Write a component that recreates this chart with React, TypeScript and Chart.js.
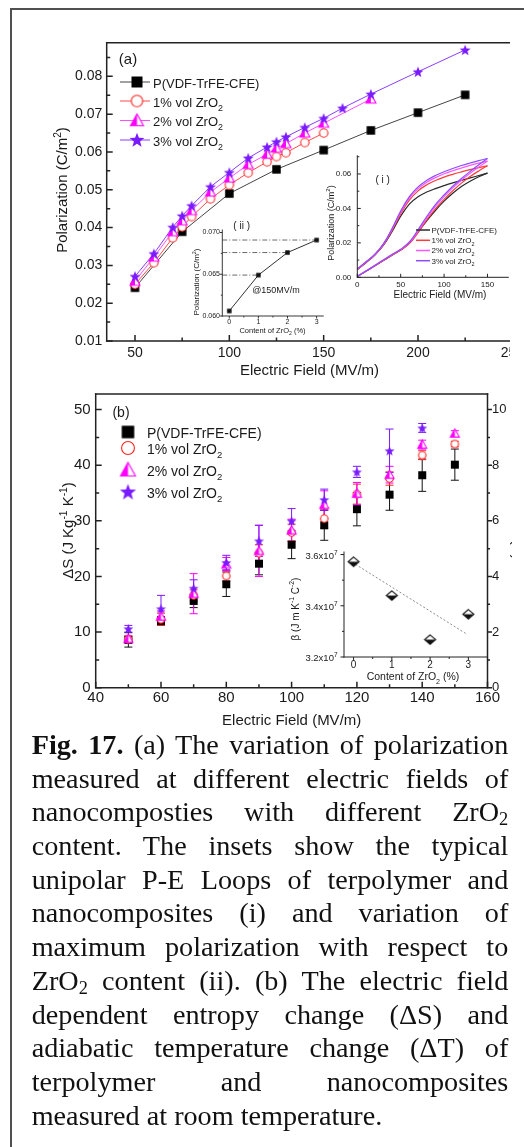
import React, { useEffect, useRef } from 'react';
import { Chart, registerables } from 'chart.js';
Chart.register(...registerables);

// ================= DATA =================
// Panel (a): polarization vs electric field
const A_E_PURE = [50, 75, 100, 125, 150, 175, 200, 225];
const A_P_PURE = [0.0241, 0.0389, 0.049, 0.0554, 0.0605, 0.0657, 0.0704, 0.0751];
const A_E_1 = [50, 60, 70, 75, 80, 90, 100, 110, 120, 125, 130, 140, 150];
const A_P_1 = [0.025, 0.0307, 0.0373, 0.0402, 0.0429, 0.0476, 0.0513, 0.0545, 0.0574, 0.0588, 0.0598, 0.0625, 0.065];
const A_E_2 = [50, 60, 70, 75, 80, 90, 100, 110, 120, 125, 130, 140, 150, 175];
const A_P_2 = [0.0258, 0.0322, 0.0389, 0.0418, 0.0445, 0.0494, 0.0531, 0.0567, 0.0594, 0.061, 0.0622, 0.065, 0.0676, 0.074];
const A_E_3 = [50, 60, 70, 75, 80, 90, 100, 110, 120, 125, 130, 140, 150, 160, 175, 200, 225];
const A_P_3 = [0.0271, 0.0331, 0.0401, 0.0431, 0.0458, 0.0508, 0.0546, 0.0584, 0.0613, 0.0627, 0.064, 0.0665, 0.0689, 0.0716, 0.0753, 0.0812, 0.087];
const A_X_TICKS = [50, 100, 150, 200, 250];
const A_X_MINOR = [75, 125, 175, 225];
const A_Y_TICKS = [0.01, 0.02, 0.03, 0.04, 0.05, 0.06, 0.07, 0.08];
const A_Y_MINOR = [0.015, 0.025, 0.035, 0.045, 0.055, 0.065, 0.075, 0.085];

const SERIES = ['P(VDF-TrFE-CFE)', '1% vol ZrO2', '2% vol ZrO2', '3% vol ZrO2'];

// Inset (i): unipolar P-E loops (charging / discharging branches)
const I_E = [0, 10, 20, 30, 40, 50, 60, 70, 80, 90, 100, 110, 120, 130, 140, 150];
const I_UP_PURE = [0.0005, 0.0035, 0.0066, 0.0097, 0.0128, 0.0158, 0.0198, 0.0262, 0.0328, 0.0388, 0.0442, 0.0488, 0.0527, 0.0558, 0.0584, 0.0605];
const I_UP_1 = [0.0005, 0.0035, 0.0066, 0.0097, 0.0128, 0.0158, 0.0196, 0.026, 0.0333, 0.0398, 0.0453, 0.0503, 0.0547, 0.0585, 0.0618, 0.0648];
const I_UP_2 = [0.0005, 0.0036, 0.0068, 0.01, 0.0131, 0.0161, 0.0201, 0.0268, 0.0343, 0.0412, 0.0468, 0.0519, 0.0564, 0.0604, 0.0641, 0.0675];
const I_UP_3 = [0.0005, 0.0036, 0.0068, 0.01, 0.0132, 0.0163, 0.0205, 0.0276, 0.0353, 0.0422, 0.0478, 0.0529, 0.0574, 0.0615, 0.0654, 0.069];
const I_DN_PURE = [0.0045, 0.0085, 0.0128, 0.0185, 0.0265, 0.0355, 0.0425, 0.0468, 0.0495, 0.0515, 0.0532, 0.0548, 0.0563, 0.0577, 0.0591, 0.0605];
const I_DN_1 = [0.0045, 0.0086, 0.0129, 0.0188, 0.0272, 0.0368, 0.0448, 0.0502, 0.0537, 0.0562, 0.0582, 0.0598, 0.0612, 0.0625, 0.0637, 0.0648];
const I_DN_2 = [0.0047, 0.0088, 0.0131, 0.0191, 0.0278, 0.0378, 0.046, 0.0515, 0.0552, 0.0579, 0.0601, 0.0619, 0.0635, 0.065, 0.0663, 0.0675];
const I_DN_3 = [0.0049, 0.009, 0.0133, 0.0194, 0.0283, 0.0385, 0.0468, 0.0525, 0.0563, 0.0591, 0.0613, 0.0632, 0.0649, 0.0664, 0.0678, 0.069];
const I_X_TICKS = [0, 50, 100, 150];
const I_X_MINOR = [25, 75, 125];
const I_Y_TICKS = [0, 0.02, 0.04, 0.06];
const I_Y_MINOR = [0.01, 0.03, 0.05, 0.07];

// Inset (ii): max polarization @150 MV/m vs ZrO2 content
const II_CONTENT = [0, 1, 2, 3];
const II_PMAX = [0.0606, 0.0649, 0.0676, 0.0691];
const II_X_TICKS = [0, 1, 2, 3];
const II_X_MINOR = [0.5, 1.5, 2.5];
const II_Y_TICKS = [0.06, 0.065, 0.07];
const II_Y_MINOR = [0.0625, 0.0675];

// Panel (b): entropy change vs electric field
const B_E = [50, 60, 70, 80, 90, 100, 110, 120, 130, 140, 150];
const B_S_PURE = [8.6, 12.0, 15.6, 18.6, 22.3, 25.7, 29.2, 32.1, 34.7, 38.2, 40.1];
const B_ERR_PURE = [1.3, 0.8, 1.2, 2.2, 2.0, 2.5, 2.7, 3.0, 2.8, 2.9, 2.8];
const B_S_1 = [8.7, 12.3, 16.6, 20.1, 24.2, 27.9, 30.4, 34.8, 37.6, 41.8, 43.8];
const B_ERR_1 = [0.6, 1.1, 1.0, 1.0, 1.5, 1.5, 1.7, 1.8, 1.2, 0.8, 0.5];
const B_S_2 = [8.8, 12.8, 16.9, 22.2, 24.6, 28.3, 32.9, 34.9, 38.3, 43.7, 45.7];
const B_ERR_2 = [0.5, 1.0, 3.6, 1.2, 4.6, 2.0, 2.5, 2.0, 1.5, 0.8, 0.5];
const B_E_3 = [50, 60, 70, 80, 90, 100, 110, 120, 130, 140];
const B_S_3 = [10.6, 14.2, 17.9, 22.5, 26.4, 30.0, 33.8, 38.8, 42.6, 46.7];
const B_ERR_3 = [0.6, 2.4, 1.5, 1.3, 2.8, 2.2, 1.9, 1.0, 3.9, 0.8];
const B_X_TICKS = [40, 60, 80, 100, 120, 140, 160];
const B_X_MINOR = [50, 70, 90, 110, 130, 150];
const B_Y_TICKS = [0, 10, 20, 30, 40, 50];
const B_Y_MINOR = [5, 15, 25, 35, 45];
const B_Y2_TICKS = [0, 2, 4, 6, 8, 10];
const B_Y2_MINOR = [1, 3, 5, 7, 9];

// Inset (b): beta vs ZrO2 content
const BETA_CONTENT = [0, 1, 2, 3];
const BETA = [3.572e7, 3.44e7, 3.268e7, 3.367e7];
const BETA_FIT_X = [0.05, 2.95];
const BETA_FIT_Y = [3.562e7, 3.29e7];
const BETA_X_TICKS = [0, 1, 2, 3];
const BETA_X_MINOR = [0.5, 1.5, 2.5];
const BETA_Y_TICKS = [3.2e7, 3.4e7, 3.6e7];
const BETA_Y_MINOR = [3.3e7, 3.5e7];

const CAPTION = [
  'Fig. 17. (a) The variation of polarization',
  'measured at different electric fields of',
  'nanocomposties with different ZrO2',
  'content. The insets show the typical',
  'unipolar P-E Loops of terpolymer and',
  'nanocomposites (i) and variation of',
  'maximum polarization with respect to',
  'ZrO2 content (ii). (b) The electric field',
  'dependent entropy change (ΔS) and',
  'adiabatic temperature change (ΔT) of',
  'terpolymer and nanocomposites',
  'measured at room temperature.',
];

// ================= STYLE =================
const FONT = "'Liberation Sans', Arial, Helvetica, sans-serif";
const TXT = '#1a1a1a';
const AX = '#222';
const C_BLACK = '#000000';
const C_RED = '#ff2323';
const C_MAG = '#ff00ff';
const C_PUR = '#7a1aff';
const L_BLACK = '#444444';
const L_RED = '#ff4a4a';
const L_MAG = '#ff4dff';
const L_PUR = '#8a3dff';

Chart.defaults.font.family = FONT;
Chart.defaults.color = TXT;

type Seg = [string, string?];
type Box = { x: number; y: number; w: number; h: number };
type Area = { l: number; t: number; r: number; b: number };

function segsOf(label: string): Seg[] {
  const i = label.indexOf('ZrO2');
  if (i < 0) return [[label]];
  return [[label.slice(0, i + 3)], ['2', 'sub'], [label.slice(i + 4)]];
}

function drawRich(ctx: CanvasRenderingContext2D, segs: Seg[], cx: number, cy: number, size: number,
  align: string = 'center', rot: number = 0, color: string = TXT) {
  const small = size * 0.68;
  const font = (k?: string) => `${k === 'sub' || k === 'sup' ? small : size}px ${FONT}`;
  let total = 0;
  for (const [t, k] of segs) { ctx.font = font(k); total += ctx.measureText(t).width; }
  ctx.save();
  ctx.translate(cx, cy);
  if (rot) ctx.rotate(rot);
  ctx.fillStyle = color;
  ctx.textAlign = 'left';
  ctx.textBaseline = 'alphabetic';
  let x = align === 'left' ? 0 : align === 'right' ? -total : -total / 2;
  const base = size * 0.358;
  for (const [t, k] of segs) {
    ctx.font = font(k);
    const dy = k === 'sub' ? size * 0.3 : k === 'sup' ? -size * 0.42 : 0;
    ctx.fillText(t, x, base + dy);
    x += ctx.measureText(t).width;
  }
  ctx.restore();
}

function makeMarker(kind: string, color: string, size: number): HTMLCanvasElement {
  const pad = 2;
  const c = document.createElement('canvas');
  const W = Math.ceil(size + pad * 2);
  c.width = W; c.height = W;
  const ctx = c.getContext('2d')!;
  const m = W / 2, r = size / 2;
  ctx.lineWidth = 1.1;
  ctx.strokeStyle = color;
  ctx.fillStyle = color;
  if (kind === 'square') {
    ctx.fillRect(m - r, m - r, size, size);
  } else if (kind === 'circle') {
    ctx.beginPath(); ctx.arc(m, m, r - 0.55, 0, Math.PI * 2);
    ctx.fillStyle = '#fff'; ctx.fill(); ctx.stroke();
  } else if (kind === 'halftri') {
    const path = () => { ctx.beginPath(); ctx.moveTo(m, m - r); ctx.lineTo(m + r, m + r * 0.8); ctx.lineTo(m - r, m + r * 0.8); ctx.closePath(); };
    path(); ctx.fillStyle = '#fff'; ctx.fill();
    ctx.save(); ctx.beginPath(); ctx.rect(0, 0, m, W); ctx.clip(); path(); ctx.fillStyle = color; ctx.fill(); ctx.restore();
    path(); ctx.stroke();
  } else if (kind === 'star') {
    ctx.beginPath();
    for (let i = 0; i < 10; i++) {
      const a = -Math.PI / 2 + (i * Math.PI) / 5;
      const rr = i % 2 === 0 ? r : r * 0.42;
      const px = m + rr * Math.cos(a), py = m + 0.5 + rr * Math.sin(a);
      if (i === 0) ctx.moveTo(px, py); else ctx.lineTo(px, py);
    }
    ctx.closePath(); ctx.fill();
  } else if (kind === 'halfdiamond') {
    const hh = r * 0.85;
    const path = () => { ctx.beginPath(); ctx.moveTo(m, m - hh); ctx.lineTo(m + r, m); ctx.lineTo(m, m + hh); ctx.lineTo(m - r, m); ctx.closePath(); };
    path(); ctx.fillStyle = '#fff'; ctx.fill();
    ctx.save(); ctx.beginPath(); ctx.rect(0, m, W, W); ctx.clip(); path(); ctx.fillStyle = color; ctx.fill(); ctx.restore();
    path(); ctx.stroke();
  }
  return c;
}

type AxisSpec = { id: string; side: string; major: number[]; minor: number[]; inward: boolean; len: number; mlen: number };

function drawAxes(chart: any, specs: AxisSpec[], frameTop: boolean, lw: number) {
  const ctx: CanvasRenderingContext2D = chart.ctx;
  const a = chart.chartArea;
  ctx.save();
  ctx.strokeStyle = AX;
  ctx.lineWidth = lw;
  for (const sp of specs) {
    const s = chart.scales[sp.id];
    const d = sp.inward ? 1 : -1;
    ctx.beginPath();
    const groups: [number[], number][] = [[sp.major, sp.len], [sp.minor, sp.mlen]];
    if (sp.side === 'bottom') {
      ctx.moveTo(a.left - lw / 2, a.bottom); ctx.lineTo(a.right + lw / 2, a.bottom);
      for (const [vals, L] of groups) for (const v of vals) {
        const p = s.getPixelForValue(v); ctx.moveTo(p, a.bottom); ctx.lineTo(p, a.bottom - d * L);
      }
    } else if (sp.side === 'left') {
      ctx.moveTo(a.left, a.top - lw / 2); ctx.lineTo(a.left, a.bottom + lw / 2);
      for (const [vals, L] of groups) for (const v of vals) {
        const p = s.getPixelForValue(v); ctx.moveTo(a.left, p); ctx.lineTo(a.left + d * L, p);
      }
    } else {
      ctx.moveTo(a.right, a.top - lw / 2); ctx.lineTo(a.right, a.bottom + lw / 2);
      for (const [vals, L] of groups) for (const v of vals) {
        const p = s.getPixelForValue(v); ctx.moveTo(a.right, p); ctx.lineTo(a.right - d * L, p);
      }
    }
    ctx.stroke();
  }
  if (frameTop) {
    ctx.beginPath(); ctx.moveTo(a.left - lw / 2, a.top); ctx.lineTo(a.right + lw / 2, a.top); ctx.stroke();
  }
  ctx.restore();
}

function scale(axis: string, position: string, min: number, max: number, ticks: number[], thick: number,
  fontSize: number, pad: number, fmt: (v: number) => string, show: boolean = true) {
  return {
    type: 'linear', axis, position, min, max,
    afterFit: (s: any) => { if (axis === 'x') s.height = thick; else s.width = thick; },
    afterBuildTicks: (s: any) => { s.ticks = ticks.map((v) => ({ value: v })); },
    grid: { display: false, drawTicks: false },
    border: { display: false },
    ticks: {
      display: show, padding: pad, autoSkip: false, maxRotation: 0, minRotation: 0,
      font: { size: fontSize, family: FONT }, color: TXT,
      callback: (v: any) => fmt(Number(v)),
    },
  };
}

function mkChart(canvas: HTMLCanvasElement, box: Box, area: Area, scales: any, datasets: any[],
  draw: (c: any, t: (segs: Seg[], x: number, y: number, size: number, align?: string, rot?: number) => void) => void,
  before?: (c: any) => void) {
  const hasRight = !!scales.y2;
  return new Chart(canvas, {
    type: 'scatter',
    data: { datasets },
    options: {
      responsive: false,
      animation: false,
      devicePixelRatio: 1,
      events: [],
      layout: {
        autoPadding: false,
        padding: { left: 0, top: area.t - box.y, right: hasRight ? 0 : box.x + box.w - area.r, bottom: 0 },
      },
      plugins: { legend: { display: false }, tooltip: { enabled: false }, title: { display: false } },
      scales,
    } as any,
    plugins: [{
      id: 'deco',
      beforeDatasetsDraw: (c: any) => { if (before) before(c); },
      afterDraw: (c: any) => {
        const ctx = c.ctx as CanvasRenderingContext2D;
        const t = (segs: Seg[], x: number, y: number, size: number, align = 'center', rot = 0) =>
          drawRich(ctx, segs, x - box.x, y - box.y, size, align, rot);
        draw(c, t);
      },
    }],
  } as any);
}

const pts = (xs: number[], ys: number[]) => xs.map((x, i) => ({ x, y: ys[i] }));

// ================= CHARTS =================
function chartA(canvas: HTMLCanvasElement) {
  const box = { x: 0, y: 0, w: 540, h: 380 };
  const area = { l: 106.7, t: 42.7, r: 531.2, b: 341 };
  const mk = {
    sq: makeMarker('square', C_BLACK, 8.5), ci: makeMarker('circle', C_RED, 9.5),
    tr: makeMarker('halftri', C_MAG, 10), st: makeMarker('star', C_PUR, 11.5),
  };
  const lg = {
    sq: makeMarker('square', C_BLACK, 11), ci: makeMarker('circle', C_RED, 12.5),
    tr: makeMarker('halftri', C_MAG, 13), st: makeMarker('star', C_PUR, 15.5),
  };
  const ds = (xs: number[], ys: number[], line: string, ps: any, order: number) => ({
    data: pts(xs, ys), showLine: true, borderColor: line, borderWidth: 1, pointStyle: ps,
    pointRadius: 5, clip: false, order,
  });
  const datasets = [
    ds(A_E_3, A_P_3, L_PUR, mk.st, 0),
    ds(A_E_2, A_P_2, L_MAG, mk.tr, 1),
    ds(A_E_1, A_P_1, L_RED, mk.ci, 2),
    ds(A_E_PURE, A_P_PURE, L_BLACK, mk.sq, 3),
  ];
  const scales = {
    x: scale('x', 'bottom', 35, 260, A_X_TICKS, box.y + box.h - area.b, 14, 4, (v) => String(v)),
    y: scale('y', 'left', 0.01, 0.0889, A_Y_TICKS, area.l - box.x, 14, 4.5, (v) => v.toFixed(2)),
  };
  return mkChart(canvas, box, area, scales, datasets, (c, t) => {
    drawAxes(c, [
      { id: 'x', side: 'bottom', major: A_X_TICKS, minor: A_X_MINOR, inward: true, len: 6, mlen: 3.5 },
      { id: 'y', side: 'left', major: A_Y_TICKS, minor: A_Y_MINOR, inward: true, len: 6, mlen: 3.5 },
    ], true, 1.5);
    t([['Electric Field (MV/m)']], 309.5, 369.5, 15);
    t([['Polarization (C/m'], ['2', 'sup'], [')']], 62, 190, 15, 'center', -Math.PI / 2);
    t([['(a)']], 128, 59, 15);
    const ctx = c.ctx as CanvasRenderingContext2D;
    const rows = [82, 101, 120.5, 140];
    const lines = [L_BLACK, L_RED, L_MAG, L_PUR];
    const marks = [lg.sq, lg.ci, lg.tr, lg.st];
    rows.forEach((y, i) => {
      ctx.save();
      ctx.strokeStyle = lines[i]; ctx.lineWidth = 1;
      ctx.beginPath(); ctx.moveTo(120, y); ctx.lineTo(150, y); ctx.stroke();
      const m = marks[i];
      ctx.drawImage(m, 137 - m.width / 2, y - m.height / 2);
      ctx.restore();
      t(segsOf(SERIES[i]), 153, y + 1, 13, 'left');
    });
  });
}

function chartAi(canvas: HTMLCanvasElement) {
  const box = { x: 318, y: 145, w: 192, h: 160 };
  const area = { l: 357.3, t: 155, r: 508.3, b: 277.3 };
  const cols = ['#2a2a2a', '#ff3b3b', '#ff55ff', '#8a4dff'];
  const ups = [I_UP_PURE, I_UP_1, I_UP_2, I_UP_3];
  const dns = [I_DN_PURE, I_DN_1, I_DN_2, I_DN_3];
  const datasets: any[] = [];
  for (let i = 0; i < 4; i++) {
    for (const arr of [ups[i], dns[i]]) {
      datasets.push({
        data: pts(I_E, arr), showLine: true, borderColor: cols[i], borderWidth: 1.2,
        pointRadius: 0, tension: 0.4, order: 4 - i,
      });
    }
  }
  const scales = {
    x: scale('x', 'bottom', 0, 174, I_X_TICKS, box.y + box.h - area.b, 8, 2.9, (v) => String(v)),
    y: scale('y', 'left', 0, 0.07056, I_Y_TICKS, area.l - box.x, 8, 6, (v) => v.toFixed(2)),
  };
  return mkChart(canvas, box, area, scales, datasets, (c, t) => {
    drawAxes(c, [
      { id: 'x', side: 'bottom', major: I_X_TICKS, minor: I_X_MINOR, inward: true, len: 3.5, mlen: 2 },
      { id: 'y', side: 'left', major: I_Y_TICKS, minor: I_Y_MINOR, inward: true, len: 3.5, mlen: 2 },
    ], false, 1);
    t([['Electric Field (MV/m)']], 440, 294.3, 10);
    t([['Polarization (C/m'], ['2', 'sup'], [')']], 330.5, 223, 9, 'center', -Math.PI / 2);
    t([['( i )']], 382.7, 179.3, 10);
    const ctx = c.ctx as CanvasRenderingContext2D;
    const rows = [230, 240.3, 250.5, 260.7];
    rows.forEach((y, i) => {
      ctx.save();
      ctx.strokeStyle = cols[i]; ctx.lineWidth = 1.5;
      ctx.beginPath(); ctx.moveTo(416 - box.x, y - box.y); ctx.lineTo(430 - box.x, y - box.y); ctx.stroke();
      ctx.restore();
      t(segsOf(SERIES[i]), 431.5, y, 8, 'left');
    });
  });
}

function chartAii(canvas: HTMLCanvasElement) {
  const box = { x: 180, y: 215, w: 155, h: 125 };
  const area = { l: 222.3, t: 230, r: 323.3, b: 316 };
  const xMin = -0.24;
  const sq = makeMarker('square', '#111', 4.5);
  const datasets: any[] = [
    {
      data: pts(II_CONTENT, II_PMAX), showLine: true, borderColor: '#333', borderWidth: 1,
      pointStyle: sq, pointRadius: 3, clip: false, order: 0,
    },
  ];
  for (let i = 1; i < II_CONTENT.length; i++) {
    datasets.push({
      data: [{ x: xMin, y: II_PMAX[i] }, { x: II_CONTENT[i], y: II_PMAX[i] }],
      showLine: true, borderColor: '#444', borderWidth: 0.8, borderDash: [5, 2, 1, 2],
      pointRadius: 0, order: 1,
    });
  }
  const scales = {
    x: scale('x', 'bottom', xMin, 3.23, II_X_TICKS, box.y + box.h - area.b, 7, 1.8, (v) => String(v)),
    y: scale('y', 'left', 0.06, 0.0703, II_Y_TICKS, area.l - box.x, 7, 2.3, (v) => v.toFixed(3)),
  };
  return mkChart(canvas, box, area, scales, datasets, (c, t) => {
    drawAxes(c, [
      { id: 'x', side: 'bottom', major: II_X_TICKS, minor: II_X_MINOR, inward: false, len: 2.5, mlen: 1.5 },
      { id: 'y', side: 'left', major: II_Y_TICKS, minor: II_Y_MINOR, inward: false, len: 2.5, mlen: 1.5 },
    ], false, 0.9);
    t(segsOf('Content of ZrO2 (%)'), 272.5, 330, 7.5);
    t([['Polarization (C/m'], ['2', 'sup'], [')']], 196, 282, 8, 'center', -Math.PI / 2);
    t([['( ii )']], 241.7, 225, 10);
    t([['@150MV/m']], 276, 290, 9);
  });
}

function chartB(canvas: HTMLCanvasElement) {
  const box = { x: 0, y: 380, w: 530, h: 350 };
  const area = { l: 95.7, t: 387.3, r: 487.5, b: 687.7 };
  const mk = {
    sq: makeMarker('square', C_BLACK, 8), ci: makeMarker('circle', C_RED, 8.5),
    tr: makeMarker('halftri', C_MAG, 9), st: makeMarker('star', C_PUR, 10.5),
  };
  const lg = {
    sq: makeMarker('square', C_BLACK, 12.5), ci: makeMarker('circle', C_RED, 14),
    tr: makeMarker('halftri', C_MAG, 15), st: makeMarker('star', C_PUR, 17),
  };
  const series = [
    { xs: B_E_3, ys: B_S_3, err: B_ERR_3, col: C_PUR, ps: mk.st },
    { xs: B_E, ys: B_S_2, err: B_ERR_2, col: C_MAG, ps: mk.tr },
    { xs: B_E, ys: B_S_1, err: B_ERR_1, col: C_RED, ps: mk.ci },
    { xs: B_E, ys: B_S_PURE, err: B_ERR_PURE, col: '#111', ps: mk.sq },
  ];
  const datasets = series.map((s, i) => ({
    data: pts(s.xs, s.ys), showLine: false, pointStyle: s.ps, pointRadius: 5, clip: false, order: i,
  }));
  const scales = {
    x: scale('x', 'bottom', 40, 160, B_X_TICKS, box.y + box.h - area.b, 15, 1.6, (v) => String(v)),
    y: scale('y', 'left', 0, 52.8, B_Y_TICKS, area.l - box.x, 15, 5, (v) => String(v)),
    y2: scale('y', 'right', 0, 10.56, B_Y2_TICKS, box.x + box.w - area.r, 13, 4.5, (v) => String(v)),
  };
  return mkChart(canvas, box, area, scales, datasets, (c, t) => {
    drawAxes(c, [
      { id: 'x', side: 'bottom', major: B_X_TICKS, minor: B_X_MINOR, inward: true, len: 6, mlen: 3.5 },
      { id: 'y', side: 'left', major: B_Y_TICKS, minor: B_Y_MINOR, inward: true, len: 6, mlen: 3.5 },
      { id: 'y2', side: 'right', major: B_Y2_TICKS, minor: B_Y2_MINOR, inward: false, len: 4.5, mlen: 2.5 },
    ], true, 1.5);
    t([['Electric Field (MV/m)']], 291.7, 719.5, 15);
    t([['ΔS (J Kg'], ['-1', 'sup'], [' K'], ['-1', 'sup'], [')']], 68, 530.5, 15, 'center', -Math.PI / 2);
    t([['ΔT (K)']], 518, 538, 15, 'center', Math.PI / 2);
    t([['(b)']], 121, 411.7, 14);
    const ctx = c.ctx as CanvasRenderingContext2D;
    const rows = [432, 448, 470, 492];
    const marks = [lg.sq, lg.ci, lg.tr, lg.st];
    rows.forEach((y, i) => {
      const m = marks[i];
      ctx.drawImage(m, 128 - m.width / 2, y - box.y - m.height / 2);
      t(segsOf(SERIES[i]), 147, y + 0.5, 14, 'left');
    });
  }, (c) => {
    const ctx = c.ctx as CanvasRenderingContext2D;
    const xs = c.scales.x, ys = c.scales.y;
    ctx.save();
    ctx.lineWidth = 1;
    for (const s of series.slice().reverse()) {
      ctx.strokeStyle = s.col;
      ctx.beginPath();
      s.xs.forEach((x, i) => {
        const px = xs.getPixelForValue(x);
        const top = ys.getPixelForValue(s.ys[i] + s.err[i]);
        const bot = ys.getPixelForValue(s.ys[i] - s.err[i]);
        ctx.moveTo(px, top); ctx.lineTo(px, bot);
        ctx.moveTo(px - 4, top); ctx.lineTo(px + 4, top);
        ctx.moveTo(px - 4, bot); ctx.lineTo(px + 4, bot);
      });
      ctx.stroke();
    }
    ctx.restore();
  });
}

function chartBi(canvas: HTMLCanvasElement) {
  const box = { x: 280, y: 540, w: 210, h: 148 };
  const area = { l: 344, t: 552, r: 487.5, b: 657 };
  const dia = makeMarker('halfdiamond', '#111', 11);
  const datasets = [
    { data: pts(BETA_CONTENT, BETA), showLine: false, pointStyle: dia, pointRadius: 5, clip: false, order: 0 },
    { data: pts(BETA_FIT_X, BETA_FIT_Y), showLine: true, borderColor: '#8a8a8a', borderWidth: 1, borderDash: [2, 2], pointRadius: 0, order: 1 },
  ];
  const scales = {
    x: scale('x', 'bottom', -0.25, 3.5, BETA_X_TICKS, box.y + box.h - area.b, 10, 2, (v) => String(v)),
    y: scale('y', 'left', 3.2e7, 3.61e7, BETA_Y_TICKS, area.l - box.x, 9.5, 6, (v) => String(v), false),
  };
  return mkChart(canvas, box, area, scales, datasets, (c, t) => {
    drawAxes(c, [
      { id: 'x', side: 'bottom', major: BETA_X_TICKS, minor: BETA_X_MINOR, inward: false, len: 3.5, mlen: 2 },
      { id: 'y', side: 'left', major: BETA_Y_TICKS, minor: BETA_Y_MINOR, inward: false, len: 3.5, mlen: 2 },
    ], false, 1);
    const ys = c.scales.y;
    for (const v of BETA_Y_TICKS) {
      const py = ys.getPixelForValue(v) + box.y;
      t([[(v / 1e7).toFixed(1) + 'x10'], ['7', 'sup']], 337.5, py + 1, 9.5, 'right');
    }
    t(segsOf('Content of ZrO2 (%)'), 413, 676.7, 10.5);
    t([['β (J m K'], ['-1', 'sup'], [' C'], ['-2', 'sup'], [')']], 295, 609, 10, 'center', -Math.PI / 2);
  });
}

function captionLine(s: string, key: number, last: boolean) {
  const parts: any[] = [];
  let rest = s;
  if (rest.startsWith('Fig. 17.')) { parts.push(<b key="b">Fig. 17.</b>); rest = rest.slice(8); }
  const pieces = rest.split('ZrO2');
  pieces.forEach((p, i) => {
    parts.push(<React.Fragment key={'p' + i}>{p}</React.Fragment>);
    if (i < pieces.length - 1) {
      parts.push(
        <React.Fragment key={'z' + i}>ZrO<span style={{ fontSize: '0.65em', verticalAlign: '-0.22em', lineHeight: 0 }}>2</span></React.Fragment>
      );
    }
  });
  return (
    <div key={key} style={{ textAlign: 'justify', textAlignLast: last ? 'left' : 'justify' } as any}>{parts}</div>
  );
}

export default function App() {
  const rA = useRef<HTMLCanvasElement>(null);
  const rAi = useRef<HTMLCanvasElement>(null);
  const rAii = useRef<HTMLCanvasElement>(null);
  const rB = useRef<HTMLCanvasElement>(null);
  const rBi = useRef<HTMLCanvasElement>(null);

  useEffect(() => {
    const charts = [
      chartA(rA.current!),
      chartB(rB.current!),
      chartAi(rAi.current!),
      chartAii(rAii.current!),
      chartBi(rBi.current!),
    ];
    return () => charts.forEach((c) => c.destroy());
  }, []);

  const holder = (x: number, y: number, w: number, h: number, cw: number, ch: number, ref: any) => (
    <div style={{ position: 'absolute', left: x, top: y, width: w, height: h, overflow: 'hidden' }}>
      <canvas ref={ref} width={cw} height={ch} style={{ display: 'block' }} />
    </div>
  );

  return (
    <div style={{ position: 'absolute', left: 0, top: 0, width: 524, height: 1147, overflow: 'hidden', background: '#fff' }}>
      <div style={{ position: 'absolute', left: 10, top: 7.5, width: 514, height: 2, background: '#505050' }} />
      <div style={{ position: 'absolute', left: 10, top: 7.5, width: 2, height: 1140, background: '#505050' }} />
      {holder(0, 0, 510, 380, 540, 380, rA)}
      {holder(0, 380, 512, 350, 530, 350, rB)}
      {holder(318, 145, 192, 160, 192, 160, rAi)}
      {holder(180, 215, 155, 125, 155, 125, rAii)}
      {holder(280, 540, 210, 148, 210, 148, rBi)}
      <div style={{
        position: 'absolute', left: 31.7, top: 727.9, width: 476.6,
        fontFamily: "'Liberation Serif', 'Times New Roman', serif", fontSize: 28.2, lineHeight: '33.7px', color: '#111',
      }}>
        {CAPTION.map((s, i) => captionLine(s, i, i === CAPTION.length - 1))}
      </div>
    </div>
  );
}
